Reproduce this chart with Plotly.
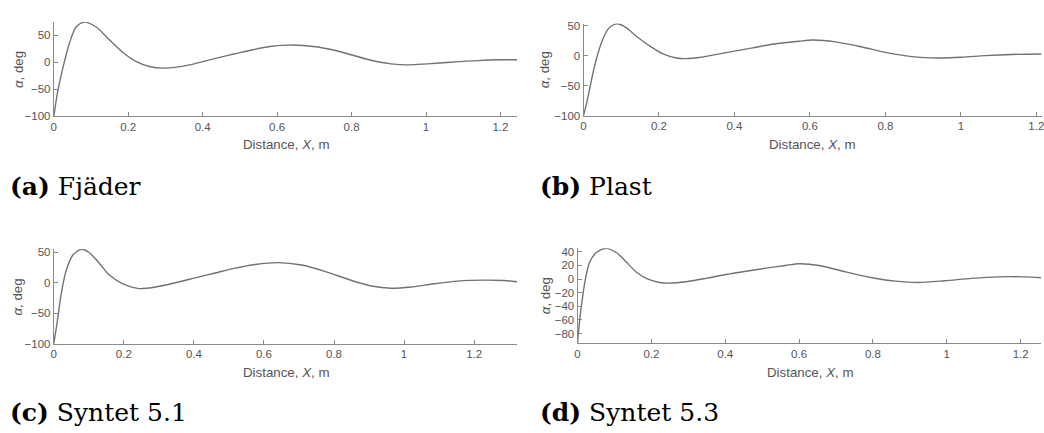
import plotly.graph_objects as go

# ---------------- data ----------------
captions = ["Fjäder", "Plast", "Syntet 5.1", "Syntet 5.3"]
letters = ["a", "b", "c", "d"]

x_fjader = [0, 0.011, 0.024, 0.042, 0.06, 0.083, 0.114, 0.15, 0.186, 0.222, 0.257, 0.293,
            0.33, 0.365, 0.4, 0.446, 0.49, 0.535, 0.58, 0.625, 0.67, 0.71, 0.777, 0.844,
            0.906, 0.95, 1.004, 1.066, 1.138, 1.2, 1.245]
y_fjader = [-100, -53, -12, 35, 65, 74, 65, 41, 18, 1, -8, -11,
            -9, -5, 1, 9, 16, 23, 29, 31.5, 31, 28, 18, 5,
            -3, -5, -3, 0, 3, 4.5, 4.5]

x_plast = [0, 0.0088, 0.0176, 0.031, 0.049, 0.066, 0.088, 0.11, 0.141, 0.176, 0.211, 0.246,
           0.272, 0.307, 0.36, 0.404, 0.448, 0.5, 0.571, 0.607, 0.668, 0.738, 0.8, 0.87,
           0.94, 1.002, 1.064, 1.134, 1.213]
y_plast = [-100, -78, -51, -13, 24, 45, 53, 48, 32, 16, 3, -4,
           -5, -3, 3, 8, 13, 19, 24, 26, 23, 14.5, 5.4, -1.6,
           -3.8, -2.7, 0, 2, 2.7]

x_syntet51 = [0, 0.0095, 0.021, 0.035, 0.054, 0.079, 0.1, 0.13, 0.158, 0.196, 0.243, 0.29,
              0.347, 0.404, 0.461, 0.518, 0.575, 0.641, 0.708, 0.774, 0.85, 0.907, 0.963,
              1.02, 1.086, 1.153, 1.229, 1.285, 1.323]
y_syntet51 = [-100, -66, -19, 19, 45, 55, 50, 32, 13, -1.6, -9.6, -7,
              0, 8, 16, 24, 30, 33, 29, 18.6, 3.7, -5.3, -9,
              -7, -1.6, 2.7, 4.3, 3.7, 1.6]

x_syntet53 = [0, 0.0048, 0.011, 0.02, 0.033, 0.051, 0.076, 0.105, 0.132, 0.159, 0.186, 0.222,
              0.249, 0.294, 0.348, 0.402, 0.456, 0.51, 0.563, 0.6, 0.654, 0.726, 0.797, 0.86,
              0.923, 0.995, 1.067, 1.139, 1.21, 1.255]
y_syntet53 = [-94, -66, -37, -4, 25, 39, 45, 39, 25, 10.5, 1, -5,
              -6, -4, 1, 6.7, 11.4, 16, 20, 22.5, 20, 10.5, 2, -3,
              -5, -2.4, 1, 3.3, 3.3, 2]

x_ticks = [0, 0.2, 0.4, 0.6, 0.8, 1.0, 1.2]
x_ticklabels = ["0", "0.2", "0.4", "0.6", "0.8", "1", "1.2"]
y_ticks_50 = [-100, -50, 0, 50]
y_ticks_20 = [-80, -60, -40, -20, 0, 20, 40]

x_ranges = [[0, 1.245], [0, 1.215], [0, 1.323], [0, 1.256]]
y_ranges = [[-100, 74.5], [-100, 53.5], [-100, 55.5], [-94.3, 45.3]]

x_label = "Distance, <i>X</i>, m"
y_label = "<i>α</i>, deg"

# ---------------- layout (pixels) ----------------
W, H = 1044, 433
# (left, right, top, bottom) of each axes box in pixels
boxes = [(51, 516.7, 18.3, 115.0),
         (583.3, 1044, 20.0, 114.3),
         (51, 516.7, 250.7, 347.7),
         (577.3, 1043.3, 250.0, 347.3)]
xtitle_pos = [(284, 144), (813, 144), (284, 376.7), (811, 376.7)]
ytitle_pos = [(15, 66.7), (545, 67.5), (15, 299.5), (545, 298.7)]
caption_pos = [(5, 186.5), (538, 186.5), (5, 418), (538, 418)]

series = [(x_fjader, y_fjader), (x_plast, y_plast),
          (x_syntet51, y_syntet51), (x_syntet53, y_syntet53)]

AX = "#8a8a8a"
TXT = "#555555"
LINE = "#727272"

fig = go.Figure()
layout = dict(width=W, height=H, margin=dict(l=0, r=0, t=0, b=0),
              paper_bgcolor="white", plot_bgcolor="white", showlegend=False,
              font=dict(family="Liberation Sans, Arial, sans-serif", size=11.5, color=TXT))
annotations = []

for i, ((xs, ys), (l, r, t, b)) in enumerate(zip(series, boxes)):
    n = "" if i == 0 else str(i + 1)
    fig.add_trace(go.Scatter(x=xs, y=ys, mode="lines",
                             line=dict(color=LINE, width=1.4, shape="spline", smoothing=0.8),
                             xaxis="x" + n, yaxis="y" + n, hoverinfo="skip"))
    layout["xaxis" + n] = dict(domain=[l / W, min(r / W, 1.0)], anchor="y" + n, range=x_ranges[i],
                               tickvals=x_ticks, ticktext=x_ticklabels, ticks="inside", ticklen=4,
                               tickcolor=AX, showline=True, linecolor=AX, linewidth=1,
                               ticklabeloverflow="allow",
                               showgrid=False, zeroline=False, tickfont=dict(size=11.5, color=TXT))
    layout["yaxis" + n] = dict(domain=[1 - b / H, 1 - t / H], anchor="x" + n, range=y_ranges[i],
                               tickvals=y_ticks_20 if i == 3 else y_ticks_50, ticks="inside", ticklen=4,
                               tickcolor=AX, showline=True, linecolor=AX, linewidth=1,
                               ticklabeloverflow="allow",
                               showgrid=False, zeroline=False, tickfont=dict(size=11.5, color=TXT))
    xt, yt = xtitle_pos[i]
    annotations.append(dict(text=x_label, x=xt / W, y=1 - yt / H, xref="paper", yref="paper",
                            xanchor="center", yanchor="middle", showarrow=False,
                            font=dict(size=13.3, color=TXT)))
    xt, yt = ytitle_pos[i]
    annotations.append(dict(text=y_label, x=xt / W, y=1 - yt / H, xref="paper", yref="paper",
                            xanchor="center", yanchor="middle", showarrow=False, textangle=-90,
                            font=dict(size=13.3, color=TXT)))
    cx, cy = caption_pos[i]
    annotations.append(dict(text="<b>(" + letters[i] + ")</b> " + captions[i], x=cx / W, y=1 - cy / H,
                            xref="paper", yref="paper", xanchor="left", yanchor="middle",
                            showarrow=False, font=dict(family="DejaVu Serif", size=25, color="black")))

layout["annotations"] = annotations
fig.update_layout(**layout)
fig.write_html("out.html", config={"displayModeBar": False},
               post_script="document.body.style.margin='0';document.body.style.overflow='hidden';")
